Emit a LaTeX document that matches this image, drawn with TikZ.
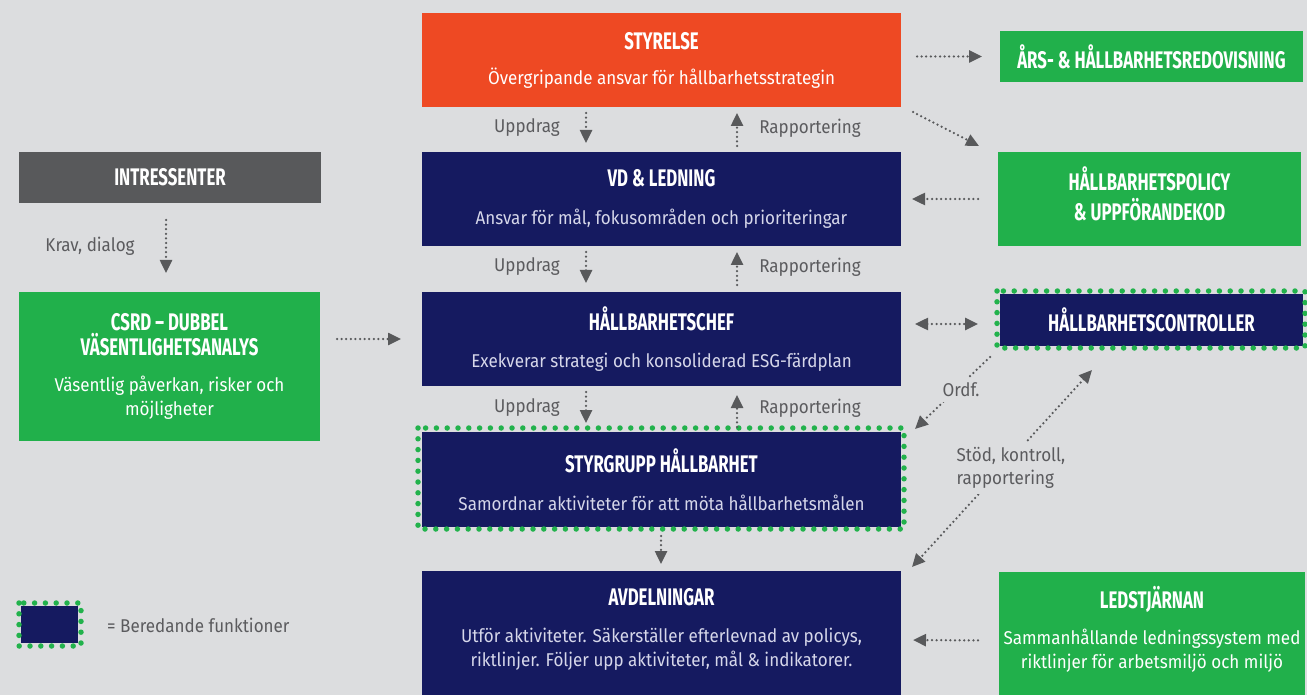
\documentclass[tikz,border=0pt]{standalone}
\usepackage{fontspec}
\usetikzlibrary{arrows.meta,calc}
\setmainfont{Fira Sans}
\newfontfamily\headfam[FakeStretch=0.7]{Fira Sans}
\newfontfamily\bodyfam[FakeStretch=0.92]{Fira Sans}
\definecolor{bg}{HTML}{DCDDDF}
\definecolor{orng}{HTML}{EE4923}
\definecolor{navy}{HTML}{151A60}
\definecolor{grn}{HTML}{21B04B}
\definecolor{dotgrn}{HTML}{22B24C}
\definecolor{dgray}{HTML}{58595B}
\definecolor{agray}{HTML}{58595B}
\definecolor{lgray}{HTML}{5B5B5E}
\definecolor{navytext}{HTML}{D6D7EA}
\newcommand\hd[1]{{\headfam\bfseries\fontsize{24}{24}\selectfont #1}}
\begin{document}
\begin{tikzpicture}[x=1pt,y=-1pt,
  box/.style={rectangle, inner sep=0pt, outer sep=0pt, align=center, text=white, anchor=north west,
    font=\bodyfam\fontsize{18.5}{24}\selectfont},
  beredande/.style={draw=dotgrn, line width=5.5pt, dash pattern=on 0pt off 10.8pt, line cap=round},
  arr/.style={draw=agray, line width=2.5pt, dash pattern=on 0pt off 4.6pt, line cap=round,
    -{Triangle[length=13pt,width=12pt]}},
  darr/.style={arr, {Triangle[length=13pt,width=12pt]}-{Triangle[length=13pt,width=12pt]}},
  lbl/.style={text=lgray, inner sep=1pt, font=\bodyfam\fontsize{18.5}{23}\selectfont},
  lblbg/.style={lbl, fill=bg, inner sep=5pt}
]
\fill[bg] (0,0) rectangle (1307,695);
\useasboundingbox (0,0) rectangle (1307,695);

% main column
\node[box, fill=orng, minimum width=479, minimum height=94] (sty) at (422,13)
  {\hd{STYRELSE}\\[11pt]Övergripande ansvar för hållbarhetsstrategin};
\node[box, fill=navy, minimum width=479, minimum height=94] (vd) at (422,152)
  {\hd{VD \& LEDNING}\\[14pt]\color{navytext}Ansvar för mål, fokusområden och prioriteringar};
\node[box, fill=navy, minimum width=479, minimum height=94] (hc) at (422,292)
  {\hd{HÅLLBARHETSCHEF}\\[13pt]\color{navytext}Exekverar strategi och konsoliderad ESG-färdplan};
\node[box, fill=navy, minimum width=479, minimum height=95] (styr) at (422,432)
  {\hd{STYRGRUPP HÅLLBARHET}\\[14pt]\color{navytext}Samordnar aktiviteter för att möta hållbarhetsmålen};
\node[box, fill=navy, minimum width=479, minimum height=124] (avd) at (422,571)
  {\hd{AVDELNINGAR}\\[13pt]\color{navytext}Utför aktiviteter. Säkerställer efterlevnad av policys,\\\color{navytext}riktlinjer. Följer upp aktiviteter, mål \& indikatorer.\\[-12pt]};

% left column
\node[box, fill=dgray, minimum width=302, minimum height=51] (int) at (19,152) {\hd{INTRESSENTER}};
\node[box, fill=grn, minimum width=301, minimum height=149] (csrd) at (19,292)
  {\hd{CSRD – DUBBEL}\\[1pt]\hd{VÄSENTLIGHETSANALYS}\\[12pt]Väsentlig påverkan, risker och\\möjligheter};

% right column
\node[box, fill=grn, minimum width=303, minimum height=51] (ars) at (1000,31) {\hd{ÅRS- \& HÅLLBARHETSREDOVISNING}};
\node[box, fill=grn, minimum width=303, minimum height=94] (pol) at (998,152)
  {\hd{HÅLLBARHETSPOLICY}\\[6pt]\hd{\& UPPFÖRANDEKOD}\\[-13pt]};
\node[box, fill=navy, minimum width=303, minimum height=52] (ctrl) at (1000,294) {\hd{HÅLLBARHETSCONTROLLER}};
\node[box, fill=grn, minimum width=306, minimum height=123] (led) at (999,572)
  {\hd{LEDSTJÄRNAN}\\[12pt]Sammanhållande ledningssystem med\\riktlinjer för arbetsmiljö och miljö\\[-12pt]};

% beredande borders
\draw[beredande] ($(styr.north west)+(-4,-4)$) rectangle ($(styr.south east)+(3,2)$);
\draw[beredande] ($(ctrl.north west)+(-3,-3)$) rectangle ($(ctrl.south east)+(2,2)$);

% legend
\node[box, fill=navy, minimum width=57, minimum height=37] (leg) at (21,606) {};
\draw[beredande] ($(leg.north west)+(-2,-3)$) rectangle ($(leg.south east)+(3,3)$);
\node[lbl, anchor=west] (legtxt) at (106,625) {= Beredande funktioner};

% vertical arrows in main column
\coordinate (ux) at (586,0);
\coordinate (rx) at (737,0);
\draw[arr, shorten <=6pt, shorten >=9pt] (sty.south -| ux) -- (vd.north -| ux);
\draw[arr, shorten <=6pt, shorten >=6pt] (vd.north -| rx) -- (sty.south -| rx);
\draw[arr, shorten <=6pt, shorten >=9pt] (vd.south -| ux) -- (hc.north -| ux);
\draw[arr, shorten <=7pt, shorten >=6pt] (hc.north -| rx) -- (vd.south -| rx);
\draw[arr, shorten <=6pt, shorten >=9pt] (hc.south -| ux) -- (styr.north -| ux);
\draw[arr, shorten <=5pt, shorten >=9pt] (styr.north -| rx) -- (hc.south -| rx);
\coordinate (sx) at (661,0);
\draw[arr, shorten <=9pt, shorten >=7pt] (styr.south -| sx) -- (avd.north -| sx);

\node[lbl] (u1) at (527,128) {Uppdrag};
\node[lbl] (r1) at (810,128) {Rapportering};
\node[lbl] (u2) at (527,267) {Uppdrag};
\node[lbl] (r2) at (810,267) {Rapportering};
\node[lbl] (u3) at (527,408) {Uppdrag};
\node[lbl] (r3) at (810,408) {Rapportering};

% left arrows
\coordinate (ix) at (166,0);
\draw[arr, shorten <=17pt, shorten >=19pt] (int.south -| ix) -- (csrd.north -| ix);
\node[lbl] (krav) at (90,246) {Krav, dialog};
\draw[arr, shorten <=17pt, shorten >=21pt] (csrd.east |- hc.west) -- (hc.west);

% right arrows
\draw[arr, shorten <=16pt, shorten >=18pt] (sty.east |- ars.west) -- (ars.west);
\draw[arr] ($(sty.south east)+(12,5)$) -- ($(pol.north west)+(-19,-6)$);
\draw[arr, shorten <=20pt, shorten >=11pt] (pol.west) -- (vd.east);
\draw[darr] ($(hc.east)+(14,-15)$) -- ($(ctrl.west)+(-22,4)$);
\draw[arr, shorten <=21pt, shorten >=12pt] ($(led.west)+(0,7)$) -- ($(avd.east)+(0,7)$);

\draw[arr] ($(ctrl.south west)+(-10,11)$) -- ($(styr.north east)+(14,-3)$);
\node[lblbg] (ordf) at (961,390) {Ordf.};
\draw[darr] ($(ctrl.south west)+(92,24)$) -- ($(avd.north east)+(11,-4)$);
\node[lblbg, align=left, font=\bodyfam\fontsize{18.5}{23}\selectfont] (stod) at (1011,468) {Stöd, kontroll,\\rapportering};
\end{tikzpicture}
\end{document}
